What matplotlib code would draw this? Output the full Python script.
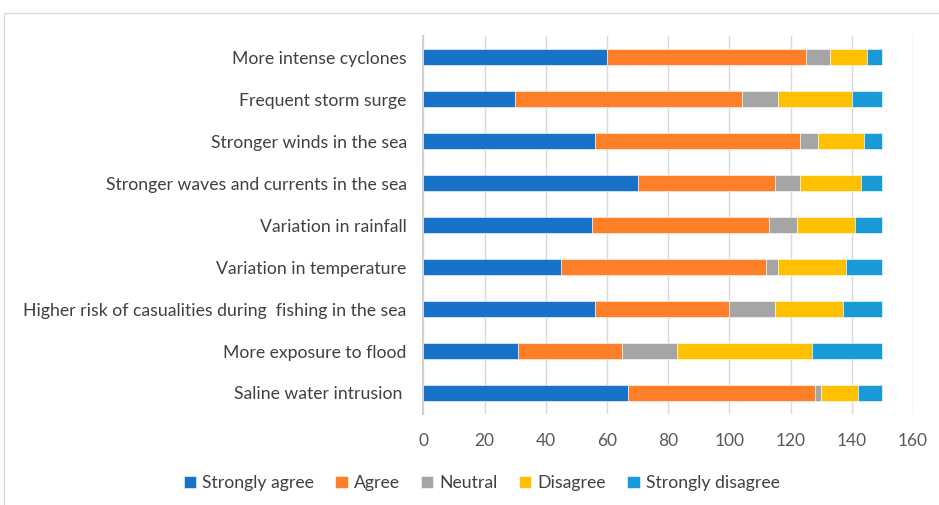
import numpy as np
import matplotlib.pyplot as plt
from matplotlib.patches import Rectangle

# survey items, bottom to top as drawn
items = ['Saline water intrusion ',
         'More exposure to flood',
         'Higher risk of casualities during  fishing in the sea',
         'Variation in temperature',
         'Variation in rainfall',
         'Stronger waves and currents in the sea',
         'Stronger winds in the sea',
         'Frequent storm surge',
         'More intense cyclones']

strongly_agree = [67, 31, 56, 45, 55, 70, 56, 30, 60]
agree = [61, 34, 44, 67, 58, 45, 67, 74, 65]
neutral = [2, 18, 15, 4, 9, 8, 6, 12, 8]
disagree = [12, 44, 22, 22, 19, 20, 15, 24, 12]
strongly_disagree = [8, 23, 13, 12, 9, 7, 6, 10, 5]

series = [('Strongly agree', strongly_agree, '#1873C8'),
          ('Agree', agree, '#FE7F27'),
          ('Neutral', neutral, '#A5A5A5'),
          ('Disagree', disagree, '#FFC000'),
          ('Strongly disagree', strongly_disagree, '#1A9BD7')]

plt.rcParams['font.family'] = ['Lato', 'DejaVu Sans']

fig = plt.figure(figsize=(9.39, 5.05), dpi=100)
ax = fig.add_axes([0.4508, 0.1802, 0.5215, 0.7485])

# chart area border
fig.patches.append(Rectangle((0.0045, -0.01), 1.0, 0.985, transform=fig.transFigure,
                             fill=False, edgecolor='#D9D9D9', linewidth=1))

y = np.arange(len(items))
left = np.zeros(len(items))
for name, vals, col in series:
    ax.barh(y, vals, left=left, height=0.38, color=col, label=name,
            edgecolor='white', linewidth=0.4, zorder=3)
    left += np.array(vals)

ax.set_xlim(0, 160)
ax.set_ylim(-0.5, len(items) - 0.5)
ax.set_xticks(np.arange(0, 161, 20))
ax.set_yticks(y)
ax.set_yticklabels(items)
ax.grid(axis='x', color='#D9D9D9', linewidth=1, zorder=0)
for s in ['top', 'right', 'bottom']:
    ax.spines[s].set_visible(False)
ax.spines['left'].set_color('#D0D0D0')
ax.spines['left'].set_linewidth(1.5)
ax.tick_params(axis='y', length=0, pad=12, labelsize=12.7, labelcolor='#404040')
ax.tick_params(axis='x', length=0, pad=14, labelsize=12.5, labelcolor='#595959')

handles, labels = ax.get_legend_handles_labels()
fig.legend(handles, labels, loc='center', bbox_to_anchor=(0.513, 0.043), ncol=5,
           frameon=False, fontsize=12.7, handlelength=0.7, handleheight=0.7,
           handletextpad=0.35, columnspacing=1.2, labelcolor='#404040')

fig.savefig('out.png', dpi=100)
